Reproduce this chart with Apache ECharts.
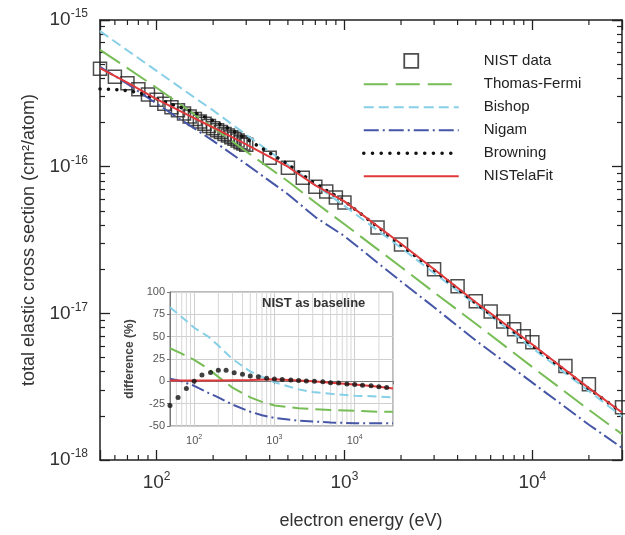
<!DOCTYPE html>
<html><head><meta charset="utf-8">
<script src="https://cdn.jsdelivr.net/npm/echarts@6/dist/echarts.min.js"></script>
<style>html,body{margin:0;padding:0;background:#fff}#c{width:625px;height:535px}</style>
</head><body><div id="c"></div>
<script>
// ---------- main panel data ----------
const energyNIST = [50,60,70,80,90,100,110,120,130,140,150,160,170,180,190,200,210,220,230,240,250,260,270,280,290,300,400,500,600,700,800,900,1000,1500,2000,3000,4000,5000,6000,7000,8000,9000,10000,15000,20000,30000];
const sigmaNIST = [4.65e-16,4.1e-16,3.7e-16,3.37e-16,3.1e-16,2.86e-16,2.69e-16,2.54e-16,2.42e-16,2.30e-16,2.20e-16,2.11e-16,2.03e-16,1.96e-16,1.89e-16,1.83e-16,1.77e-16,1.72e-16,1.67e-16,1.63e-16,1.585e-16,1.55e-16,1.51e-16,1.47e-16,1.44e-16,1.41e-16,1.15e-16,9.84e-17,8.4e-17,7.3e-17,6.76e-17,6.16e-17,5.69e-17,3.85e-17,2.95e-17,2.0e-17,1.53e-17,1.21e-17,1.03e-17,8.8e-18,7.8e-18,6.98e-18,6.35e-18,4.37e-18,3.29e-18,2.29e-18];
const energyModel = [50,70,100,150,200,300,500,700,1000,2000,3000,5000,10000,20000,30000];
const sigmaThomasFermi = [6.25e-16,4.7e-16,3.45e-16,2.4e-16,1.85e-16,1.27e-16,7.95e-17,5.7e-17,4.05e-17,2.07e-17,1.39e-17,8.5e-18,4.3e-18,2.2e-18,1.5e-18];
const sigmaBishop = [8.4e-16,6.2e-16,4.5e-16,3.12e-16,2.42e-16,1.65e-16,1.03e-16,7.5e-17,5.4e-17,2.8e-17,1.88e-17,1.15e-17,5.8e-18,2.95e-18,1.98e-18];
const sigmaNigam = [4.79e-16,3.66e-16,2.69e-16,1.91e-16,1.50e-16,1.04e-16,6.49e-17,4.53e-17,3.36e-17,1.65e-17,1.1e-17,6.53e-18,3.37e-18,1.74e-18,1.21e-18];
const sigmaFit = [4.70e-16,3.74e-16,2.89e-16,2.22e-16,1.85e-16,1.42e-16,9.99e-17,7.45e-17,5.8e-17,2.98e-17,2.0e-17,1.19e-17,6.13e-18,3.09e-18,2.11e-18];
const energyBrowning = [50,60,70,80,90,100,150,200,250,300,400,500,700,1000,2000,3000,5000,10000,20000,30000];
const sigmaBrowning = [3.39e-16,3.36e-16,3.3e-16,3.2e-16,3.05e-16,2.9e-16,2.41e-16,2.06e-16,1.78e-16,1.55e-16,1.24e-16,1.04e-16,7.63e-17,5.83e-17,2.92e-17,1.97e-17,1.17e-17,6.03e-18,3.06e-18,2.11e-18];
const mainXRange = [50, 30000];
const mainYRange = [1e-18, 1e-15];
const mainXTickExponents = [2,3,4];
const mainYTickExponents = [-18,-17,-16,-15];
const xMinorTicks = [60,70,80,90,200,300,400,500,600,700,800,900,2000,3000,4000,5000,6000,7000,8000,9000,20000];

// ---------- inset data (difference, %) ----------
const energyDiff = [50,70,100,150,200,300,500,700,1000,2000,3000,5000,10000,20000,30000];
const diffThomasFermi = [37,31,24,14,5,-7,-18,-23,-27,-30,-31,-32,-33,-34,-34];
const diffBishop = [83,72,60,50,40,25,11,5,-1,-9,-12,-14,-16,-17,-18];
const diffNigam = [3,0,-5,-13,-18,-26,-34,-38,-41,-44,-45,-46,-47,-47,-47];
const energyDiffFit = [50,100,200,500,1000,2000,3000,5000,10000,20000,30000];
const diffFit = [1,1,1,1.5,2.2,1,0,-1.5,-3.5,-6,-8];
const energyDiffBrowning = [50,63,80,100,125,160,200,250,315,400,500,630,800,1000,1250,1600,2000,2500,3150,4000,5000,6300,8000,10000,12500,16000,20000,25000];
const diffBrowning = [-27,-18,-8,0,7,10,12.5,12.5,9.5,8,6,5,3.5,2.5,2,1.5,1,0.5,0,-0.5,-1.5,-2,-3,-3.5,-4.5,-5,-6,-7];
const insetYTicks = [-50,-25,0,25,50,75,100];

const names = ['NIST data','Thomas-Fermi','Bishop','Nigam','Browning','NISTelaFit'];

const FONT = "'Liberation Sans', Arial, Helvetica, sans-serif";
const COL = {tf:'#77bd55', bishop:'#86cfe6', nigam:'#4656a6', fit:'#e0393b', brown:'#111111', sq:'#222222'};

function pairs(xs, ys){ return xs.map((x,i)=>[x, ys[i]]); }
function powLabel(exps){
  return function(v){
    const l = Math.log10(v), e = Math.round(l);
    if (Math.abs(l-e) > 1e-6 || exps.indexOf(e) < 0) return '';
    return '{b|10}{s|' + e + '}';
  };
}
const mainRich = {
  b:{fontSize:19, color:'#333', fontFamily:FONT, lineHeight:24},
  s:{fontSize:12, color:'#333', fontFamily:FONT, lineHeight:12, verticalAlign:'top'}
};
const insetRich = {
  b:{fontSize:11, color:'#555', fontFamily:FONT, lineHeight:14},
  s:{fontSize:7, color:'#555', fontFamily:FONT, lineHeight:7, verticalAlign:'top'}
};
const axisLineMain = {show:true, lineStyle:{color:'#222', width:1.5}};
const tickMain = {show:true, inside:true, length:10, lineStyle:{color:'#222', width:1.3}};
const minorMain = {show:true, splitNumber:9, length:5, lineStyle:{color:'#222', width:1.2}};

function mainX(pos, labels){
  return {type:'log', logBase:10, gridIndex:0, position:pos, min:mainXRange[0], max:mainXRange[1],
    axisLine:axisLineMain, axisTick:tickMain, minorTick:{show:false}, splitLine:{show:false},
    axisLabel: labels ? {show:true, margin:11, formatter:powLabel(mainXTickExponents), rich:mainRich} : {show:false},
    name: labels ? 'electron energy (eV)' : '', nameLocation:'middle', nameGap:52,
    nameTextStyle:{fontSize:18, color:'#333', fontFamily:FONT}};
}
function mainY(pos, labels){
  return {type:'log', logBase:10, gridIndex:0, position:pos, min:mainYRange[0], max:mainYRange[1],
    axisLine:axisLineMain, axisTick:tickMain, minorTick:minorMain, splitLine:{show:false},
    axisLabel: labels ? {show:true, margin:12, formatter:powLabel(mainYTickExponents), rich:mainRich} : {show:false},
    name: labels ? 'total elastic cross section (cm²/atom)' : '', nameLocation:'middle', nameGap:62,
    nameTextStyle:{fontSize:18, color:'#333', fontFamily:FONT}};
}
const hiddenSym = {color:'rgba(0,0,0,0)', borderWidth:0, borderColor:'rgba(0,0,0,0)'};

const chart = echarts.init(document.getElementById('c'), null, {renderer:'canvas'});
const option = {
  animation:false,
  backgroundColor:'#fff',
  textStyle:{fontFamily:FONT},
  title:{text:'NIST as baseline', left:262, top:297, padding:0,
    textStyle:{fontSize:13, fontWeight:'bold', color:'#333', fontFamily:FONT}},
  legend:{orient:'vertical', left:362, top:53, padding:0, itemWidth:95, itemHeight:14, itemGap:8,
    selectedMode:false, symbolKeepAspect:true,
    textStyle:{fontSize:15, color:'#222', fontFamily:FONT, lineHeight:14, padding:[0,0,0,20]},
    data:[
      {name:names[0], icon:'path://M1,1L12,1L12,12L1,12Z', itemStyle:{color:'rgba(255,255,255,0)', borderColor:COL.sq, borderWidth:1.8}},
      {name:names[1], itemStyle:hiddenSym, lineStyle:{color:COL.tf, width:2, type:[24,8]}},
      {name:names[2], itemStyle:hiddenSym, lineStyle:{color:COL.bishop, width:2, type:[10,5]}},
      {name:names[3], itemStyle:hiddenSym, lineStyle:{color:COL.nigam, width:2, type:[15,4,2,4]}},
      {name:names[4], itemStyle:hiddenSym, lineStyle:{color:COL.brown, width:3.5, type:[0.1,8.6], cap:'round'}},
      {name:names[5], itemStyle:hiddenSym, lineStyle:{color:COL.fit, width:2}}]},
  grid:[
    {left:100, top:20, right:2, bottom:75, containLabel:false},
    {left:170, top:292, width:223, height:134, show:true, backgroundColor:'#fff', borderColor:'#777', borderWidth:1, z:5}
  ],
  xAxis:[
    mainX('bottom', true),
    mainX('top', false),
    {type:'log', logBase:10, gridIndex:1, min:mainXRange[0], max:mainXRange[1], z:6,
      axisLine:{show:true, lineStyle:{color:'#777', width:1}},
      axisTick:{show:true, length:3, lineStyle:{color:'#777'}},
      minorTick:{show:false},
      splitLine:{show:true, lineStyle:{color:'#cfcfcf', width:1}},
      minorSplitLine:{show:false},
      axisLabel:{show:true, margin:8, formatter:powLabel(mainXTickExponents), rich:insetRich}}
  ],
  yAxis:[
    mainY('left', true),
    mainY('right', false),
    {type:'value', gridIndex:1, min:insetYTicks[0], max:insetYTicks[insetYTicks.length-1], interval:25, z:6,
      axisLine:{show:true, lineStyle:{color:'#777', width:1}},
      axisTick:{show:true, length:3, lineStyle:{color:'#777'}},
      splitLine:{show:true, lineStyle:{color:'#cfcfcf', width:1}},
      axisLabel:{show:true, margin:5, fontSize:11, color:'#555', fontFamily:FONT},
      name:'difference (%)', nameLocation:'middle', nameGap:34,
      nameTextStyle:{fontSize:12, fontWeight:'bold', color:'#444', fontFamily:FONT}}
  ],
  series:[
    {name:names[0], type:'scatter', xAxisIndex:0, yAxisIndex:0, data:pairs(energyNIST, sigmaNIST),
      symbol:'rect', symbolSize:13, itemStyle:{color:'rgba(255,255,255,0)', borderColor:COL.sq, borderWidth:1.5}, z:2, silent:true},
    {name:names[1], type:'line', xAxisIndex:0, yAxisIndex:0, data:pairs(energyModel, sigmaThomasFermi), symbol:'none',
      lineStyle:{color:COL.tf, width:2, type:[24,8]}, z:3, silent:true},
    {name:names[2], type:'line', xAxisIndex:0, yAxisIndex:0, data:pairs(energyModel, sigmaBishop), symbol:'none',
      lineStyle:{color:COL.bishop, width:2, type:[10,5]}, z:3, silent:true},
    {name:names[3], type:'line', xAxisIndex:0, yAxisIndex:0, data:pairs(energyModel, sigmaNigam), symbol:'none',
      lineStyle:{color:COL.nigam, width:2, type:[15,4,2,4]}, z:3, silent:true},
    {name:names[4], type:'line', xAxisIndex:0, yAxisIndex:0, data:pairs(energyBrowning, sigmaBrowning), symbol:'none',
      lineStyle:{color:COL.brown, width:3.5, type:[0.1,8.3], cap:'round'}, z:4, silent:true},
    {name:names[5], type:'line', xAxisIndex:0, yAxisIndex:0, data:pairs(energyModel, sigmaFit), symbol:'none',
      lineStyle:{color:COL.fit, width:2}, z:5, silent:true},
    // minor ticks on the main x axes (bottom and top), placed through the axis scale
    {name:'x minor ticks', type:'custom', xAxisIndex:0, yAxisIndex:0, silent:true, clip:false, z:10,
      data:xMinorTicks.map(v=>[v, mainYRange[0]]),
      renderItem:function(params, api){
        const v = api.value(0);
        const pb = api.coord([v, mainYRange[0]]);
        const pt = api.coord([v, mainYRange[1]]);
        const st = {stroke:'#222', lineWidth:1.2};
        return {type:'group', children:[
          {type:'line', shape:{x1:pb[0], y1:pb[1], x2:pb[0], y2:pb[1]-5}, style:st},
          {type:'line', shape:{x1:pt[0], y1:pt[1], x2:pt[0], y2:pt[1]+5}, style:st}]};
      }},
    // inset minor vertical grid lines
    {name:'inset minor grid', type:'custom', xAxisIndex:2, yAxisIndex:2, silent:true, clip:true, z:6,
      data:xMinorTicks.map(v=>[v, insetYTicks[0]]),
      renderItem:function(params, api){
        const v = api.value(0);
        const p0 = api.coord([v, insetYTicks[0]]);
        const p1 = api.coord([v, insetYTicks[insetYTicks.length-1]]);
        return {type:'line', shape:{x1:p0[0], y1:p0[1], x2:p1[0], y2:p1[1]}, style:{stroke:'#d6d6d6', lineWidth:1}};
      }},
    // inset
    {name:'TF diff', type:'line', xAxisIndex:2, yAxisIndex:2, data:pairs(energyDiff, diffThomasFermi), symbol:'none',
      lineStyle:{color:COL.tf, width:2, type:[16,7]}, z:7, silent:true},
    {name:'Bishop diff', type:'line', xAxisIndex:2, yAxisIndex:2, data:pairs(energyDiff, diffBishop), symbol:'none',
      lineStyle:{color:COL.bishop, width:2, type:[9,5]}, z:7, silent:true},
    {name:'Nigam diff', type:'line', xAxisIndex:2, yAxisIndex:2, data:pairs(energyDiff, diffNigam), symbol:'none',
      lineStyle:{color:COL.nigam, width:2, type:[13,4,2,4]}, z:7, silent:true},
    {name:'Fit diff', type:'line', xAxisIndex:2, yAxisIndex:2, data:pairs(energyDiffFit, diffFit), symbol:'none',
      lineStyle:{color:COL.fit, width:2}, z:7, silent:true},
    {name:'Browning diff', type:'scatter', xAxisIndex:2, yAxisIndex:2, data:pairs(energyDiffBrowning, diffBrowning),
      symbol:'circle', symbolSize:5, itemStyle:{color:COL.brown}, z:8, silent:true}
  ]
};
chart.setOption(option);
</script></body></html>
